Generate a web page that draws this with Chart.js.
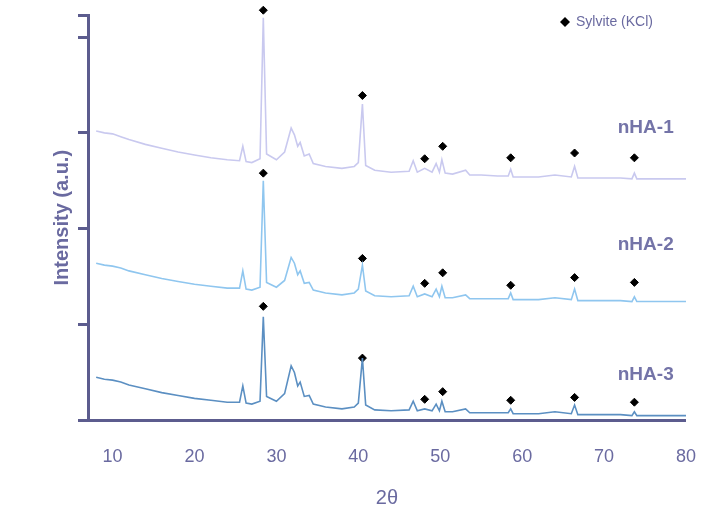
<!DOCTYPE html>
<html><head><meta charset="utf-8">
<script src="https://cdn.jsdelivr.net/npm/chart.js@4"></script>
<style>html,body{margin:0;background:#fff}#w{width:714px;height:514px}</style>
</head><body><div id="w"><canvas id="c"></canvas></div>
<script>
const twoTheta=[8,9,10,11,12,14,16,18,20,22,24,25.5,25.9,26.3,27,28.0,28.4,28.8,30,31,31.8,32.2,32.6,32.9,33.4,34.0,34.5,36,38,39.5,40.0,40.5,40.9,42,44,46.2,46.7,47.2,48.1,49.0,49.5,49.9,50.2,50.6,51.5,53.1,53.6,55,57,58.3,58.6,58.9,60,62,64,66.0,66.4,66.8,68,70,72,73.4,73.7,74.0,76,78,80];
const nHA3=[0.45,0.43,0.42,0.40,0.37,0.33,0.29,0.26,0.23,0.21,0.19,0.19,0.36,0.18,0.17,0.20,1.08,0.25,0.20,0.28,0.57,0.50,0.36,0.40,0.25,0.26,0.17,0.14,0.12,0.14,0.18,0.65,0.16,0.11,0.10,0.11,0.20,0.10,0.12,0.10,0.17,0.10,0.20,0.09,0.09,0.12,0.08,0.08,0.08,0.08,0.12,0.07,0.07,0.07,0.09,0.07,0.16,0.06,0.06,0.06,0.06,0.05,0.09,0.05,0.05,0.05,0.05];
const nHA2=[1.64,1.62,1.61,1.59,1.56,1.52,1.48,1.45,1.42,1.40,1.38,1.38,1.56,1.37,1.36,1.39,2.50,1.44,1.39,1.46,1.70,1.64,1.52,1.56,1.43,1.44,1.36,1.33,1.31,1.33,1.37,1.62,1.35,1.30,1.29,1.30,1.40,1.29,1.32,1.29,1.37,1.29,1.40,1.28,1.28,1.31,1.27,1.27,1.27,1.27,1.33,1.26,1.26,1.26,1.28,1.26,1.37,1.25,1.25,1.25,1.25,1.24,1.29,1.24,1.24,1.24,1.24];
const nHA1=[3.02,3.00,2.99,2.96,2.93,2.88,2.84,2.80,2.77,2.74,2.72,2.71,2.86,2.70,2.69,2.73,4.20,2.78,2.72,2.80,3.05,2.98,2.86,2.90,2.76,2.78,2.68,2.65,2.63,2.65,2.69,3.30,2.66,2.61,2.59,2.60,2.71,2.59,2.63,2.59,2.68,2.59,2.72,2.58,2.57,2.61,2.56,2.56,2.55,2.55,2.62,2.54,2.54,2.54,2.56,2.54,2.65,2.53,2.53,2.53,2.53,2.52,2.58,2.52,2.52,2.52,2.52];
const kclX=[28.4,40.5,48.1,50.3,58.6,66.4,73.7];
const kcl1=[4.28,3.39,2.73,2.86,2.74,2.79,2.74];
const kcl2=[2.58,1.69,1.43,1.54,1.41,1.49,1.44];
const kcl3=[1.19,0.65,0.22,0.30,0.21,0.24,0.19];
const sampleNames=['nHA-1','nHA-2','nHA-3'];
const labelY=[3.05,1.83,0.48];
const legendText='Sylvite (KCl)';

const pts=(xs,ys)=>xs.map((x,i)=>({x,y:ys[i]}));
const line=(d,c)=>({type:'line',data:pts(twoTheta,d),borderColor:c,borderWidth:1.6,pointRadius:0,tension:0});
const dia=(d)=>({type:'scatter',data:pts(kclX,d),pointStyle:'rectRot',pointRadius:4,backgroundColor:'#000',borderColor:'#000',clip:false});
const textPlugin={id:'txt',afterDatasetsDraw(ch){const c=ch.ctx,xs=ch.scales.x,ys=ch.scales.y;c.save();c.fillStyle='#7474a8';c.font='bold 19px Arial, "Liberation Sans"';c.textAlign='right';c.textBaseline='middle';
sampleNames.forEach((n,i)=>c.fillText(n,xs.getPixelForValue(78.5),ys.getPixelForValue(labelY[i])));
c.fillStyle='#000';c.beginPath();const lx=565,ly=22;c.moveTo(lx,ly-5);c.lineTo(lx+5,ly);c.lineTo(lx,ly+5);c.lineTo(lx-5,ly);c.fill();
c.fillStyle='#6a6aa0';c.font='14px Arial, "Liberation Sans"';c.textAlign='left';c.fillText(legendText,lx+11,ly);c.restore();}};
new Chart(document.getElementById('c'),{data:{datasets:[line(nHA1,'#c9c9ef'),line(nHA2,'#8fc6ef'),line(nHA3,'#5b8fc2'),dia(kcl1),dia(kcl2),dia(kcl3)]},
options:{responsive:true,maintainAspectRatio:false,animation:false,layout:{padding:{top:15,right:6,left:46,bottom:0}},
plugins:{legend:{display:false},tooltip:{enabled:false}},
scales:{x:{type:'linear',min:7,max:80,border:{color:'#5c5c8e',width:3},grid:{display:false,drawOnChartArea:false},
ticks:{stepSize:10,padding:18,color:'#6a6aa0',font:{size:18,family:'Arial'},callback:v=>v%10===0&&v>=10?v:''},
title:{display:true,text:'2θ',color:'#6a6aa0',padding:{top:0},font:{size:20,family:'Arial'}}},
y:{min:0,max:4.23,border:{color:'#5c5c8e',width:3},grid:{drawOnChartArea:false,color:'#5c5c8e',lineWidth:3,tickLength:10},
ticks:{stepSize:1,display:false},
title:{display:true,text:'Intensity (a.u.)',color:'#6a6aa0',font:{size:20,weight:'bold',family:'Arial'}}}}},
plugins:[textPlugin]});
</script></body></html>
